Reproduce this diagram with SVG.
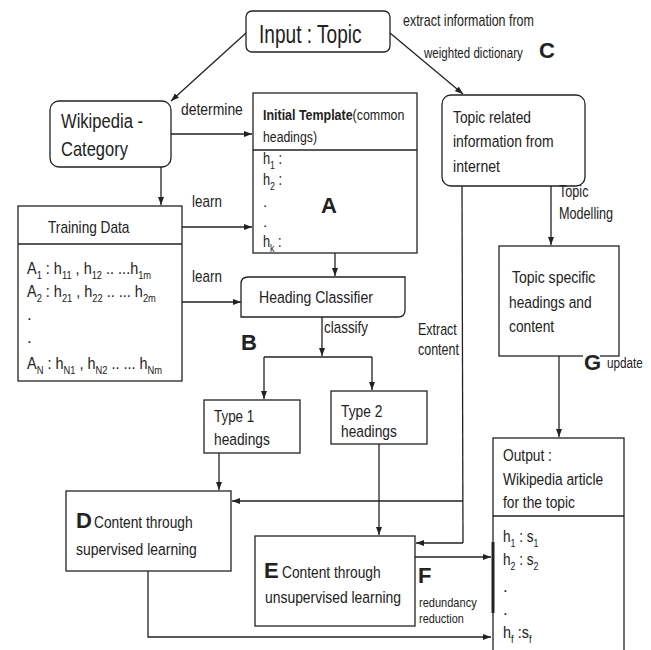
<svg xmlns="http://www.w3.org/2000/svg" width="651" height="650" viewBox="0 0 651 650">
<defs>
<marker id="ah" viewBox="0 0 8 6" refX="8" refY="3" markerWidth="8" markerHeight="6" orient="auto" markerUnits="userSpaceOnUse"><path d="M0,0 L8,3 L0,6 z" fill="#222"/></marker>
<style>
text{font-family:"Liberation Sans",Arial,sans-serif;fill:#222}
.box{fill:#fff;stroke:#222;stroke-width:1.3}
.c{fill:none;stroke:#222;stroke-width:1.3}
.a{marker-end:url(#ah)}
.n{font-size:17px}
.s{font-size:16px}
.xs{font-size:13px}
.b{font-weight:bold;font-size:22px}
.sub{font-size:11px}
</style>
</defs>
<rect width="651" height="650" fill="#fff"/>
<g id="connectors">
<path class="c a" d="M246,33 L171,101"/>
<path class="c a" d="M390,33 L463,94"/>
<path class="c a" d="M171,134 L252,134"/>
<path class="c a" d="M161,167 L161,205"/>
<path class="c a" d="M182,227 L252,227"/>
<path class="c a" d="M182,302 L241,302"/>
<path class="c a" d="M335,253 L335,276"/>
<path class="c a" d="M322,317 L322,356"/>
<path class="c" d="M264,357 L372,357"/>
<path class="c a" d="M264,357 L264,399"/>
<path class="c a" d="M372,357 L372,390"/>
<path class="c a" d="M219,453 L219,490"/>
<path class="c a" d="M379,444 L379,535"/>
<path class="c" d="M462,186 L463,543"/>
<path class="c a" d="M463,501 L232,501"/>
<path class="c a" d="M463,543 L416,543"/>
<path class="c a" d="M551,186 L551,245"/>
<path class="c a" d="M559,356 L559,437"/>
<path class="c a" d="M415,557 L491,557"/>
<path class="c a" d="M148,571 L148,637 L491,637"/>
</g>
<g id="input">
<rect class="box" x="246" y="11" width="144" height="41" rx="6"/>
<text transform="translate(259,43) scale(0.734,1)" font-size="26">Input : Topic</text>
</g>
<g id="label-c">
<text class="s" transform="translate(403,26) scale(0.78,1)">extract information from</text>
<text transform="translate(424,58) scale(0.77,1)" font-size="15">weighted dictionary</text>
<text class="b" x="539" y="58">C</text>
</g>
<g id="wikipedia">
<rect class="box" x="50" y="101" width="121" height="66" rx="9"/>
<text transform="translate(61,128) scale(0.79,1)" font-size="21">Wikipedia -</text>
<text transform="translate(61,156) scale(0.786,1)" font-size="21">Category</text>
</g>
<text class="s" transform="translate(181,115) scale(0.87,1)">determine</text>
<g id="template">
<rect class="box" x="253" y="93" width="164" height="160"/>
<path class="c" d="M253,150 L417,150"/>
<text transform="translate(263,120) scale(0.83,1)" font-size="15"><tspan font-weight="bold">Initial Template</tspan>(common</text>
<text transform="translate(263,142) scale(0.82,1)" font-size="15">headings)</text>
<text transform="translate(263,164) scale(0.8,1)" font-size="16">h<tspan class="sub" dy="5">1</tspan><tspan dy="-5"> :</tspan></text>
<text transform="translate(263,185) scale(0.8,1)" font-size="16">h<tspan class="sub" dy="5">2</tspan><tspan dy="-5"> :</tspan></text>
<text x="263" y="207" font-size="15">.</text>
<text x="263" y="227" font-size="15">.</text>
<text transform="translate(263,247) scale(0.8,1)" font-size="16">h<tspan class="sub" dy="5">k</tspan><tspan dy="-5"> :</tspan></text>
<text class="b" x="321" y="213">A</text>
</g>
<g id="training">
<rect class="box" x="18" y="206" width="164" height="175"/>
<path class="c" d="M18,244 L182,244"/>
<text class="n" transform="translate(48,233) scale(0.804,1)">Training Data</text>
<text transform="translate(27,274) scale(0.85,1)" font-size="17">A<tspan class="sub" dy="5">1</tspan><tspan dy="-5"> : h</tspan><tspan class="sub" dy="5">11</tspan><tspan dy="-5"> , h</tspan><tspan class="sub" dy="5">12</tspan><tspan dy="-5"> .. ...h</tspan><tspan class="sub" dy="5">1m</tspan></text>
<text transform="translate(27,297) scale(0.85,1)" font-size="17">A<tspan class="sub" dy="5">2</tspan><tspan dy="-5"> : h</tspan><tspan class="sub" dy="5">21</tspan><tspan dy="-5"> , h</tspan><tspan class="sub" dy="5">22</tspan><tspan dy="-5"> .. ... h</tspan><tspan class="sub" dy="5">2m</tspan></text>
<text x="27" y="320" font-size="17">.</text>
<text x="27" y="343" font-size="17">.</text>
<text transform="translate(27,369) scale(0.85,1)" font-size="17">A<tspan class="sub" dy="5">N</tspan><tspan dy="-5"> : h</tspan><tspan class="sub" dy="5">N1</tspan><tspan dy="-5"> , h</tspan><tspan class="sub" dy="5">N2</tspan><tspan dy="-5"> .. ... h</tspan><tspan class="sub" dy="5">Nm</tspan></text>
</g>
<text class="s" transform="translate(192,207) scale(0.84,1)">learn</text>
<text class="s" transform="translate(192,282) scale(0.84,1)">learn</text>
<g id="classifier">
<path class="box" d="M241,284 Q241,277 248,277 L405,277 L405,310 Q405,317 398,317 L241,317 Z"/>
<text class="n" transform="translate(259,303) scale(0.827,1)">Heading Classifier</text>
</g>
<text class="s" transform="translate(324,333) scale(0.84,1)">classify</text>
<text class="b" x="241" y="350">B</text>
<g id="type1">
<rect class="box" x="204" y="400" width="96" height="53"/>
<text class="n" transform="translate(214,422) scale(0.79,1)">Type 1</text>
<text class="n" transform="translate(214,445) scale(0.81,1)">headings</text>
</g>
<g id="type2">
<rect class="box" x="331" y="391" width="96" height="53"/>
<text class="n" transform="translate(341,417) scale(0.81,1)">Type 2</text>
<text class="n" transform="translate(341,437) scale(0.81,1)">headings</text>
</g>
<g id="topic-related">
<rect class="box" x="442" y="95" width="143" height="91" rx="9"/>
<text class="n" transform="translate(453,123) scale(0.81,1)">Topic related</text>
<text class="n" transform="translate(453,147) scale(0.82,1)">information from</text>
<text class="n" transform="translate(453,172) scale(0.83,1)">internet</text>
</g>
<text class="s" transform="translate(559,197) scale(0.79,1)">Topic</text>
<text class="s" transform="translate(559,219) scale(0.79,1)">Modelling</text>
<text class="s" transform="translate(418,335) scale(0.78,1)">Extract</text>
<text class="s" transform="translate(418,355) scale(0.78,1)">content</text>
<g id="topic-specific">
<rect class="box" x="499" y="246" width="120" height="110"/>
<text class="n" transform="translate(512,283) scale(0.825,1)">Topic specific</text>
<text class="n" transform="translate(509,308) scale(0.81,1)">headings and</text>
<text class="n" transform="translate(509,332) scale(0.81,1)">content</text>
</g>
<rect x="583" y="353" width="17" height="6" fill="#fff"/>
<text class="b" x="584" y="370">G</text>
<text transform="translate(607,368) scale(0.78,1)" font-size="15">update</text>
<g id="output">
<rect class="box" x="493" y="438" width="131" height="222"/>
<path class="c" d="M493,516 L624,516"/>
<path d="M493,542 L493,613" stroke="#222" stroke-width="3"/>
<text class="n" transform="translate(503,461) scale(0.81,1)">Output :</text>
<text class="n" transform="translate(503,485) scale(0.81,1)">Wikipedia article</text>
<text class="n" transform="translate(503,508) scale(0.81,1)">for the topic</text>
<text transform="translate(503,542) scale(0.8,1)" font-size="17">h<tspan class="sub" dy="5">1</tspan><tspan dy="-5"> : s</tspan><tspan class="sub" dy="5">1</tspan></text>
<text transform="translate(503,565) scale(0.8,1)" font-size="17">h<tspan class="sub" dy="5">2</tspan><tspan dy="-5"> : s</tspan><tspan class="sub" dy="5">2</tspan></text>
<text x="503" y="592" font-size="17">.</text>
<text x="503" y="615" font-size="17">.</text>
<text transform="translate(503,638) scale(0.85,1)" font-size="17">h<tspan class="sub" dy="5">f</tspan><tspan dy="-5"> :s</tspan><tspan class="sub" dy="5">f</tspan></text>
</g>
<g id="supervised">
<rect class="box" x="66" y="491" width="165" height="80"/>
<text class="b" x="76" y="528" font-size="23">D</text>
<text class="n" transform="translate(94,528) scale(0.81,1)">Content through</text>
<text class="n" transform="translate(76,555) scale(0.82,1)">supervised learning</text>
</g>
<g id="unsupervised">
<rect class="box" x="255" y="536" width="160" height="90"/>
<text class="b" x="264" y="578" font-size="23">E</text>
<text class="n" transform="translate(282,578) scale(0.81,1)">Content through</text>
<text class="n" transform="translate(265,603) scale(0.818,1)">unsupervised learning</text>
</g>
<text class="b" x="418" y="583">F</text>
<text class="xs" transform="translate(419,607) scale(0.85,1)">redundancy</text>
<text class="xs" transform="translate(419,623) scale(0.84,1)">reduction</text>
</svg>
